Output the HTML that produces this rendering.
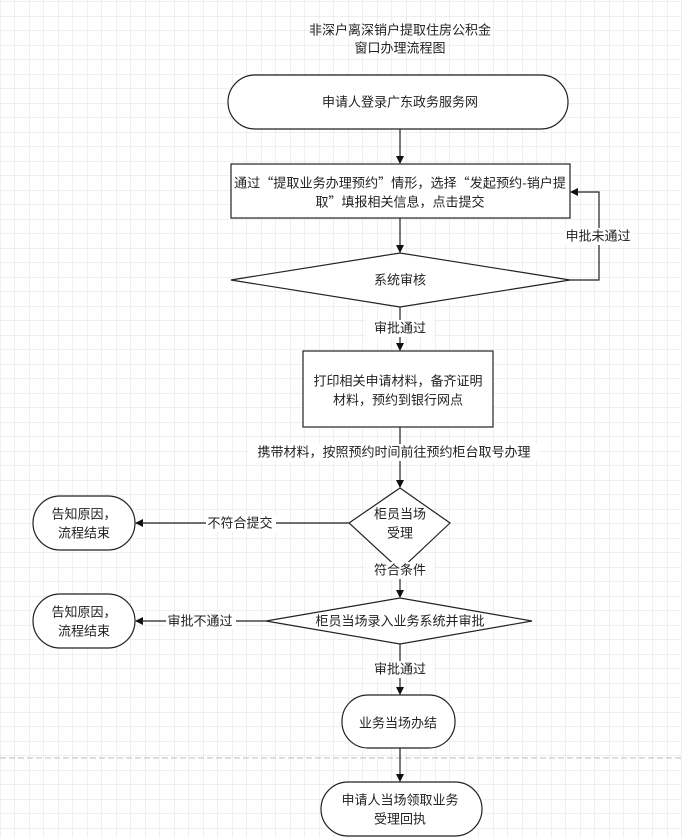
<!DOCTYPE html>
<html><head><meta charset="utf-8"><style>
html,body{margin:0;padding:0;background:#fff;}
svg{display:block;}
text{font-family:"Liberation Sans","Noto Sans CJK SC",sans-serif;font-size:13px;fill:#222;text-anchor:middle;dominant-baseline:central;}
text.c{font-family:"Noto Sans CJK SC",sans-serif;}
</style></head><body>
<svg width="682" height="838" viewBox="0 0 682 838" xmlns="http://www.w3.org/2000/svg">
<defs>
<pattern id="g" width="14.5" height="14.5" patternUnits="userSpaceOnUse" x="0.5" y="2">
<path d="M14.5 0V14.5M0 14.5H14.5" stroke="#e2e2e2" stroke-width="1" fill="none"/>
</pattern>
<marker id="a" markerWidth="8" markerHeight="8" refX="7" refY="4" orient="auto" markerUnits="userSpaceOnUse">
<path d="M0,0L8,4L0,8z" fill="#111"/>
</marker>
</defs>
<rect width="682" height="838" fill="url(#g)"/>
<line x1="0" y1="758" x2="682" y2="758" stroke="#bbb" stroke-dasharray="6,3"/>
<g stroke="#222" stroke-width="1.2" fill="#fff">
<rect x="228" y="75" width="340" height="54" rx="27"/>
<rect x="231" y="164" width="339" height="54"/>
<polygon points="231,280 400,253 570,280 400,307"/>
<rect x="303" y="351" width="190" height="76"/>
<polygon points="349,523 400,488 450,523 400,570"/>
<rect x="33" y="496" width="102" height="54" rx="27"/>
<polygon points="266,621 400,598 532,621 400,644"/>
<rect x="33" y="594" width="102" height="54" rx="27"/>
<rect x="342" y="695" width="113" height="53" rx="26"/>
<rect x="321" y="782" width="161" height="54" rx="27"/>
</g>
<g stroke="#222" stroke-width="1.2" fill="none" marker-end="url(#a)">
<line x1="400" y1="129" x2="400" y2="163"/>
<line x1="400" y1="218" x2="400" y2="252"/>
<polyline points="570,280 599,280 599,192 571,192"/>
<line x1="400" y1="307" x2="400" y2="350"/>
<line x1="400" y1="427" x2="400" y2="487"/>
<line x1="349" y1="523" x2="136" y2="523"/>
<line x1="400" y1="570" x2="400" y2="597"/>
<line x1="266" y1="621" x2="136" y2="621"/>
<line x1="400" y1="644" x2="400" y2="694"/>
<line x1="400" y1="748" x2="400" y2="781"/>
</g>
<g fill="#fff">
<rect x="564" y="228" width="70" height="17"/>
<rect x="366" y="320" width="68" height="17"/>
<rect x="248" y="444" width="290" height="17"/>
<rect x="206" y="515" width="70" height="17"/>
<rect x="366" y="562" width="68" height="17"/>
<rect x="166" y="613" width="70" height="17"/>
<rect x="366" y="661" width="68" height="17"/>
</g>
<text x="400" y="30">非深户离深销户提取住房公积金</text>
<text x="400" y="48">窗口办理流程图</text>
<text x="400" y="102">申请人登录广东政务服务网</text>
<text class="c" x="400" y="182" textLength="332" lengthAdjust="spacingAndGlyphs">通过“提取业务办理预约”情形，选择“发起预约-销户提</text>
<text class="c" x="400" y="201">取”填报相关信息，点击提交</text>
<text x="400" y="280">系统审核</text>
<text x="598" y="236">申批未通过</text>
<text x="400" y="328">审批通过</text>
<text x="398" y="381">打印相关申请材料，备齐证明</text>
<text x="398" y="400">材料，预约到银行网点</text>
<text x="394" y="452">携带材料，按照预约时间前往预约柜台取号办理</text>
<text x="400" y="514">柜员当场</text>
<text x="400" y="533">受理</text>
<text x="240" y="523">不符合提交</text>
<text x="84" y="514">告知原因，</text>
<text x="84" y="533">流程结束</text>
<text x="400" y="570">符合条件</text>
<text x="400" y="621">柜员当场录入业务系统并审批</text>
<text x="200" y="621">审批不通过</text>
<text x="84" y="612">告知原因，</text>
<text x="84" y="631">流程结束</text>
<text x="400" y="669">审批通过</text>
<text x="398" y="723">业务当场办结</text>
<text x="400" y="800">申请人当场领取业务</text>
<text x="400" y="819">受理回执</text>
</svg>
</body></html>
